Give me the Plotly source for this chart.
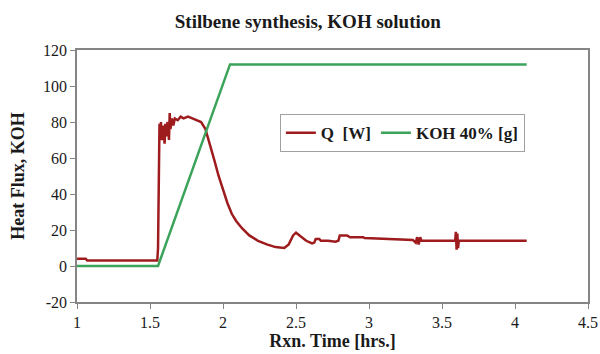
import plotly.graph_objects as go

# Heat flow Q [W] over reaction time
q_time = [1.00, 1.06, 1.07, 1.55, 1.555, 1.56, 1.565, 1.57, 1.575, 1.58, 1.59, 1.60, 1.605,
          1.61, 1.62, 1.63, 1.635, 1.64, 1.65, 1.66, 1.67, 1.69, 1.71, 1.73, 1.76, 1.79,
          1.82, 1.85, 1.88, 1.91, 1.94, 1.97, 2.00, 2.03, 2.06, 2.09, 2.13, 2.18, 2.24,
          2.30, 2.36, 2.42, 2.45, 2.48, 2.50, 2.53, 2.57, 2.61, 2.625, 2.635, 2.66, 2.67,
          2.72, 2.77, 2.79, 2.80, 2.85, 2.87, 2.96, 2.97, 3.30, 3.32, 3.33, 3.34, 3.35,
          3.36, 3.59, 3.595, 3.60, 3.605, 3.61, 3.615, 4.08]
q_watts = [4.0, 4.0, 3.0, 3.0, 10, 50, 79, 72, 80, 70, 78, 68, 79,
           72, 80, 70, 85, 76, 82, 78, 82, 81, 83, 82, 83, 82,
           81, 80, 76, 68, 59, 50, 42, 35, 29, 25, 21, 17, 14,
           12, 10.5, 10, 12, 17, 18.5, 16.5, 14, 12.5, 13, 15, 15, 14,
           14, 13.5, 14, 17, 17, 16, 16, 15.5, 14.5, 13, 16, 12, 16,
           14, 14, 19, 9, 18, 10, 14, 14]

# KOH 40% dosing [g]
koh_time = [1.00, 1.555, 2.048, 4.08]
koh_grams = [0, 0, 112, 112]

# Axis ticks
x_ticks = [1, 1.5, 2, 2.5, 3, 3.5, 4, 4.5]
x_tick_text = ["1", "1.5", "2", "2.5", "3", "3.5", "4", "4.5"]
y_ticks = [-20, 0, 20, 40, 60, 80, 100, 120]
y_tick_text = ["-20", "0", "20", "40", "60", "80", "100", "120"]

serif = "Liberation Serif"
axis_grey = "#858585"
text_col = "#1a1a1a"

fig = go.Figure()
fig.add_trace(go.Scatter(x=q_time, y=q_watts, mode="lines", name="<b>Q  [W]</b>",
                         line=dict(color="#9E1B1E", width=2.5)))
fig.add_trace(go.Scatter(x=koh_time, y=koh_grams, mode="lines", name="<b>KOH 40% [g]</b>",
                         line=dict(color="#3BA35A", width=2.5)))

fig.update_layout(
    width=600, height=354,
    margin=dict(l=77, r=12, t=50, b=52),
    paper_bgcolor="white", plot_bgcolor="white",
    font=dict(family=serif, size=16, color=text_col),
    title=dict(text="<b>Stilbene synthesis, KOH solution</b>", x=0.513, xanchor="center",
               y=0.94, yanchor="middle", font=dict(family=serif, size=19, color=text_col)),
    showlegend=True,
    legend=dict(orientation="h", x=0.397, y=0.745, xanchor="left", yanchor="top",
                bgcolor="white", bordercolor="#A0A0A0", borderwidth=1,
                font=dict(family=serif, size=17, color=text_col),
                itemwidth=30, tracegroupgap=0),
)

fig.update_xaxes(range=[1, 4.5], tickvals=x_ticks, ticktext=x_tick_text, automargin=False,
                 showgrid=False, zeroline=False, showline=True, linecolor=axis_grey,
                 linewidth=1.5, mirror=True, ticks="outside", ticklen=5, tickcolor=axis_grey,
                 title=dict(text="<b>Rxn. Time [hrs.]</b>", standoff=4,
                            font=dict(family=serif, size=18, color=text_col)))
fig.update_yaxes(range=[-20, 120], tickvals=y_ticks, ticktext=y_tick_text, automargin=False,
                 showgrid=False, zeroline=False,
                 showline=True, linecolor=axis_grey, linewidth=1.5, mirror=True,
                 ticks="outside", ticklen=5, tickcolor=axis_grey,
                 title=dict(text="<b>Heat Flux, KOH</b>", standoff=14,
                            font=dict(family=serif, size=18, color=text_col)))

fig.write_html("out.html")
